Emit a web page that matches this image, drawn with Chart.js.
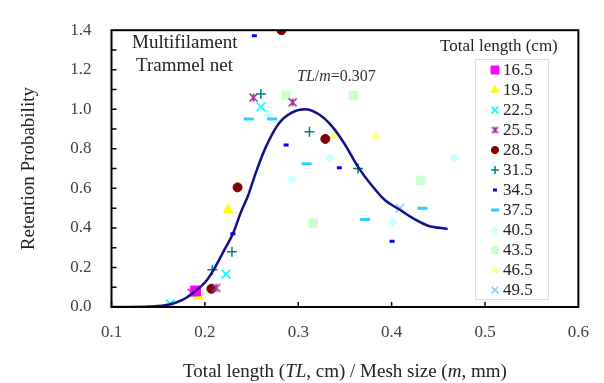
<!DOCTYPE html>
<html>
<head>
<meta charset="utf-8">
<script src="https://cdn.jsdelivr.net/npm/chart.js@4/dist/chart.umd.min.js"></script>
<style>
  html, body { margin: 0; padding: 0; background: #fff; }
  #wrap { width: 604px; height: 383px; }
</style>
</head>
<body>
<div id="wrap"><canvas id="c" width="604" height="383"></canvas></div>
<script>
// fitted curve
const curveX = [0.10, 0.12, 0.14, 0.162, 0.176, 0.19, 0.201, 0.21, 0.221, 0.23, 0.239, 0.246, 0.255, 0.265, 0.279, 0.293, 0.307, 0.322, 0.336, 0.35, 0.364, 0.379, 0.393, 0.407, 0.425, 0.439, 0.46];
const curveY = [0, 0, 0.002, 0.013, 0.036, 0.081, 0.129, 0.193, 0.29, 0.371, 0.484, 0.56, 0.685, 0.806, 0.927, 0.983, 1.0, 0.975, 0.915, 0.822, 0.709, 0.613, 0.54, 0.497, 0.443, 0.411, 0.395];

// observed points per total length (x = TL/m, y = retention)
const tl165x = [0.190];               const tl165y = [0.081];
const tl195x = [0.193, 0.225];        const tl195y = [0.053, 0.492];
const tl225x = [0.163, 0.2225, 0.26]; const tl225y = [0.016, 0.166, 1.012];
const tl255x = [0.186, 0.212, 0.252, 0.294]; const tl255y = [0.072, 0.097, 1.059, 1.035];
const tl285x = [0.207, 0.235, 0.282, 0.329]; const tl285y = [0.092, 0.605, 1.40, 0.850];
const tl315x = [0.208, 0.229, 0.260, 0.312, 0.364]; const tl315y = [0.189, 0.279, 1.077, 0.887, 0.700];
const tl345x = [0.230, 0.253, 0.287, 0.344, 0.4005]; const tl345y = [0.371, 1.372, 0.819, 0.704, 0.332];
const tl375x = [0.247, 0.272, 0.309, 0.3715, 0.433]; const tl375y = [0.951, 0.951, 0.725, 0.443, 0.500];
const tl405x = [0.268, 0.293, 0.334, 0.401, 0.467]; const tl405y = [0.972, 0.645, 0.754, 0.430, 0.754];
const tl435x = [0.287, 0.316, 0.359, 0.431]; const tl435y = [1.071, 0.424, 1.069, 0.640];
const tl465x = [0.338, 0.383];        const tl465y = [0.866, 0.866];
const tl495x = [0.409];               const tl495y = [0.500];

const seriesLabels = ['16.5', '19.5', '22.5', '25.5', '28.5', '31.5', '34.5', '37.5', '40.5', '43.5', '46.5', '49.5'];
const xTicks = [0.1, 0.2, 0.3, 0.4, 0.5, 0.6];
const yTicks = [0, 0.2, 0.4, 0.6, 0.8, 1.0, 1.2, 1.4];

const seriesX = [tl165x, tl195x, tl225x, tl255x, tl285x, tl315x, tl345x, tl375x, tl405x, tl435x, tl465x, tl495x];
const seriesY = [tl165y, tl195y, tl225y, tl255y, tl285y, tl315y, tl345y, tl375y, tl405y, tl435y, tl465y, tl495y];

// excel-like star marker: an x with a vertical bar
function starImg(size, color) {
  const cv = document.createElement('canvas');
  cv.width = size; cv.height = size;
  const c = cv.getContext('2d');
  const m = 1.5, e = size - 1.5;
  c.strokeStyle = color;
  c.lineWidth = 1.7;
  c.beginPath();
  c.moveTo(m, m); c.lineTo(e, e);
  c.moveTo(e, m); c.lineTo(m, e);
  c.moveTo(size / 2, m); c.lineTo(size / 2, e);
  c.stroke();
  return cv;
}

const styles = [
  { color: '#ff00ff', pointStyle: 'rect', radius: 7, bw: 1 },
  { color: '#ffff00', pointStyle: 'triangle', radius: 5.5, bw: 1 },
  { color: '#00ffff', pointStyle: 'crossRot', radius: 6, bw: 1.6 },
  { color: '#993399', pointStyle: starImg(11, '#993399'), legendStyle: starImg(9, '#993399'), radius: 6, bw: 1.6 },
  { color: '#800000', pointStyle: 'circle', radius: 4.5, bw: 1 },
  { color: '#008080', pointStyle: 'cross', radius: 5, bw: 1.5 },
  { color: '#0000ff', pointStyle: 'line', radius: 2.5, bw: 3 },
  { color: '#33ccff', pointStyle: 'line', radius: 5, bw: 3 },
  { color: '#ccffff', pointStyle: 'rectRot', radius: 4.5, bw: 1 },
  { color: '#ccffcc', pointStyle: 'rect', radius: 6, bw: 1 },
  { color: '#ffff99', pointStyle: 'triangle', radius: 5.5, bw: 1 },
  { color: '#99ccff', pointStyle: 'crossRot', radius: 6, bw: 1.6 }
];

const datasets = [{
  label: 'curve',
  data: curveX.map((x, i) => ({ x: x, y: curveY[i] })),
  showLine: true,
  borderColor: '#10108a',
  borderWidth: 2.5,
  pointRadius: 0,
  cubicInterpolationMode: 'monotone',
  order: 0
}];
seriesLabels.forEach((lab, k) => {
  const s = styles[k];
  datasets.push({
    label: lab,
    data: seriesX[k].map((x, i) => ({ x: x, y: seriesY[k][i] })),
    pointStyle: s.pointStyle,
    pointRadius: s.radius,
    pointBorderWidth: s.bw,
    backgroundColor: s.color,
    borderColor: s.color,
    order: 1
  });
});

const serif = '"Liberation Serif", "Times New Roman", serif';

// draws a run of [text, italic] pieces starting at x
function mixedText(ctx, parts, x, y, size) {
  parts.forEach(p => {
    ctx.font = (p[1] ? 'italic ' : '') + size + 'px ' + serif;
    ctx.fillText(p[0], x, y);
    x += ctx.measureText(p[0]).width;
  });
}
function mixedWidth(ctx, parts, size) {
  let w = 0;
  parts.forEach(p => {
    ctx.font = (p[1] ? 'italic ' : '') + size + 'px ' + serif;
    w += ctx.measureText(p[0]).width;
  });
  return w;
}

const extras = {
  id: 'extras',
  afterDraw(chart) {
    const ctx = chart.ctx;
    const a = chart.chartArea;
    const xs = chart.scales.x, ys = chart.scales.y;
    ctx.save();
    // frame
    ctx.strokeStyle = '#000';
    ctx.lineWidth = 2;
    ctx.strokeRect(a.left, a.top, a.right - a.left, a.bottom - a.top);
    // inward ticks
    ctx.lineWidth = 1.5;
    ctx.beginPath();
    for (let v = 0.1; v < 0.6; v += 0.1) {
      const px = xs.getPixelForValue(v);
      ctx.moveTo(px, a.bottom); ctx.lineTo(px, a.bottom - 5);
    }
    for (let v = 0.1; v < 1.4; v += 0.1) {
      const py = ys.getPixelForValue(v);
      ctx.moveTo(a.left, py); ctx.lineTo(a.left + 5, py);
    }
    ctx.stroke();

    ctx.textBaseline = 'alphabetic';
    ctx.textAlign = 'left';

    // x axis title with italic symbols
    ctx.fillStyle = '#222';
    const xt = [['Total length (', false], ['TL', true], [', cm) / Mesh size (', false], ['m', true], [', mm)', false]];
    const xw = mixedWidth(ctx, xt, 19);
    mixedText(ctx, xt, (a.left + a.right) / 2 - xw / 2, 377, 19);

    // notes
    ctx.font = '19px ' + serif;
    ctx.fillText('Multifilament', 132, 48);
    ctx.fillText('Trammel net', 136, 71);

    ctx.fillStyle = '#333';
    mixedText(ctx, [['TL', true], ['/', false], ['m', true], ['=0.307', false]], 297, 81, 16);

    // legend
    ctx.fillStyle = '#222';
    ctx.font = '17px ' + serif;
    ctx.fillText('Total length (cm)', 440, 51);
    ctx.fillStyle = '#fff';
    ctx.fillRect(475, 59, 73, 240);
    ctx.strokeStyle = '#dddddd';
    ctx.lineWidth = 1;
    ctx.strokeRect(475.5, 59.5, 73, 240);
    ctx.textBaseline = 'middle';
    seriesLabels.forEach((lab, k) => {
      const s = styles[k];
      const y = 70 + k * 20;
      ctx.fillStyle = s.color;
      ctx.strokeStyle = s.color;
      ctx.lineWidth = s.bw;
      Chart.helpers.drawPoint(ctx, {
        pointStyle: s.legendStyle || s.pointStyle,
        radius: s.radius * 0.8,
        rotation: 0,
        borderWidth: s.bw
      }, 495, y);
      ctx.fillStyle = '#222';
      ctx.font = '17px ' + serif;
      ctx.fillText(lab, 503, y + 1);
    });
    ctx.restore();
  }
};

new Chart(document.getElementById('c'), {
  type: 'scatter',
  data: { datasets: datasets },
  options: {
    responsive: false,
    animation: false,
    layout: { padding: { top: 17, right: 22, left: 0, bottom: 0 } },
    plugins: { legend: { display: false }, tooltip: { enabled: false } },
    scales: {
      x: {
        type: 'linear',
        min: 0.1, max: 0.6,
        afterFit: (s) => { s.height = 76; },
        afterBuildTicks: (s) => { s.ticks = xTicks.map(v => ({ value: v })); },
        grid: { display: false, drawTicks: false },
        border: { display: false },
        ticks: {
          padding: 15,
          color: '#404040',
          font: { family: serif, size: 17 },
          callback: (v) => Number(v).toFixed(1)
        },
        title: { display: false }
      },
      y: {
        type: 'linear',
        min: 0, max: 1.4,
        afterFit: (s) => { s.width = 111.5; },
        afterBuildTicks: (s) => { s.ticks = yTicks.map(v => ({ value: v })); },
        grid: { display: false, drawTicks: false },
        border: { display: false },
        ticks: {
          padding: 20,
          color: '#404040',
          font: { family: serif, size: 17 },
          callback: (v) => Number(v).toFixed(1)
        },
        title: {
          display: true,
          text: 'Retention Probability',
          color: '#222',
          font: { family: serif, size: 19 },
          padding: { top: 18, bottom: 0 }
        }
      }
    }
  },
  plugins: [extras]
});
</script>
</body>
</html>
